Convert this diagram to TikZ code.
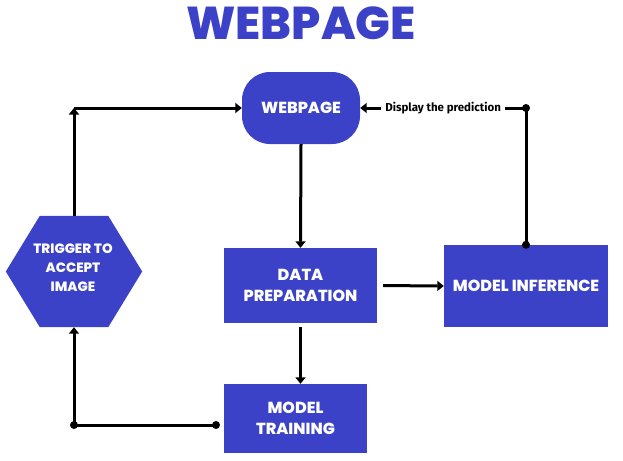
\documentclass[tikz,border=0pt]{standalone}
\usepackage{fontspec}
\setmainfont{Poppins}
\newfontfamily\heavyfont{Poppins ExtraBold}
\newfontfamily\labelfont{Fira Sans}
\usetikzlibrary{arrows.meta,positioning}
\definecolor{boxblue}{RGB}{59,66,200}
\tikzset{
  box/.style={fill=boxblue,text=white,font=\heavyfont\fontsize{16}{21.5}\selectfont,align=center,inner sep=0pt},
  conn/.style={line width=3pt,-{Triangle[length=6.5pt,width=10pt]}},
  dot/.style={fill=black},
}
\begin{document}
\begin{tikzpicture}[x=1pt,y=-1pt]
\useasboundingbox (0,0) rectangle (623,460);
\node[text=boxblue,font=\heavyfont\fontsize{46}{46}\selectfont] (title) at (301,23) {WEBPAGE};
\node[box,rounded corners=28pt,minimum width=118pt,minimum height=72pt] (web) at (301,108) {WEBPAGE};
\node[box,minimum width=153pt,minimum height=75pt] (dp) at (300.5,285.5) {DATA\\PREPARATION};
\node[box,minimum width=164pt,minimum height=82pt] (mi) at (526,286) {MODEL INFERENCE};
\node[box,minimum width=143pt,minimum height=69pt] (mt) at (295.5,418.5) {MODEL\\TRAINING};
\node[minimum width=136pt,minimum height=111pt,inner sep=0pt] (hex) at (74,271.5) {};
\fill[boxblue] (hex.west) -- ([xshift=34pt]hex.north west) -- ([xshift=-34pt]hex.north east) -- (hex.east) -- ([xshift=-34pt]hex.south east) -- ([xshift=34pt]hex.south west) -- cycle;
\node[text=white,font=\heavyfont\fontsize{13.5}{19}\selectfont,align=center] (hext) at (73,268) {TRIGGER TO\\ACCEPT\\IMAGE};
\coordinate (c1) at (74,108);
\coordinate (c2) at (74,425);
\coordinate (c3) at (216,425);
\coordinate (c4) at (526,108);
% connectors
\draw[conn] (hex.north) -- (c1);
\draw[conn] (c1) -- (web.west);
\draw[conn] (web.south) -- (dp.north);
\draw[conn,shorten <=6pt] (dp.east) -- (mi.west);
\draw[conn,shorten <=4pt] (dp.south) -- (dp.south |- mt.north);
\draw[conn] (c3) -- (c2) -- (hex.south);
\draw[conn] (mi.north) -- (c4) -- (web.east) node[pos=0.5,fill=white,inner xsep=4pt,inner ysep=1pt,font=\labelfont\bfseries\fontsize{11.5}{12}\selectfont] (lab) {Display the prediction};
\fill[dot] (c3) circle (4pt);
\fill[dot] (c2) circle (4pt);
\fill[dot] (mi.north) circle (4pt);
\fill[dot] (c4) circle (4pt);
\end{tikzpicture}
\end{document}
